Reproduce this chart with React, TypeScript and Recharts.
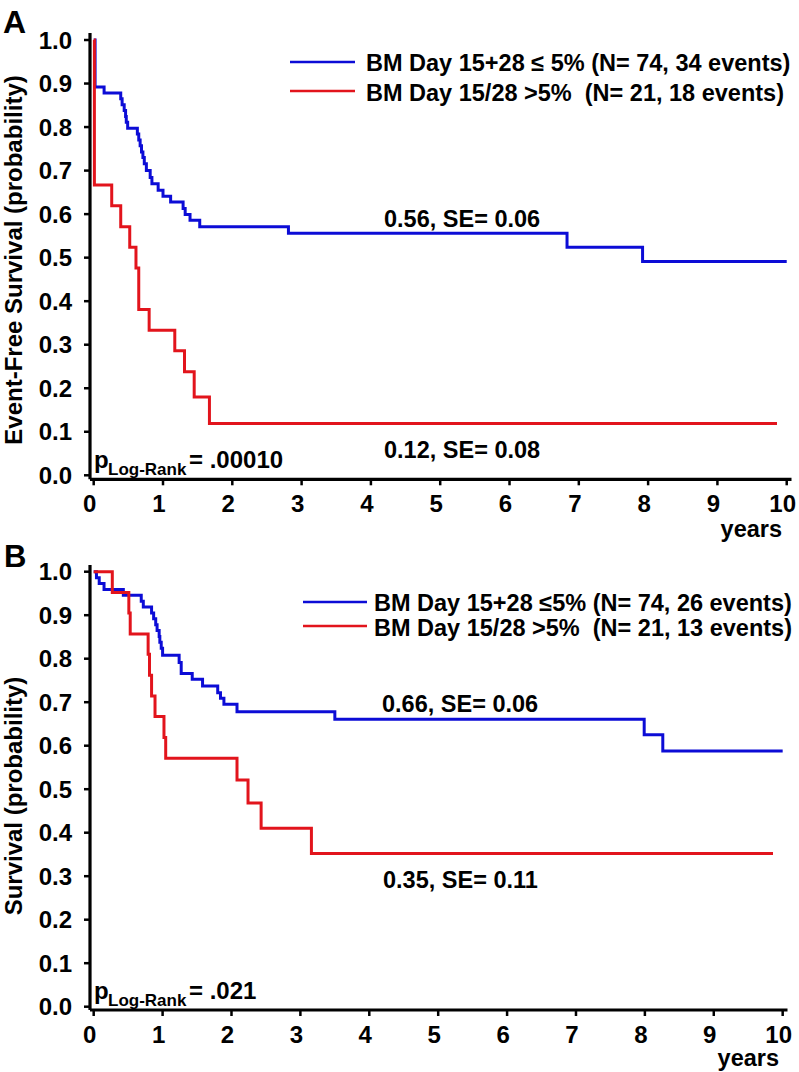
import React from "react";
import { LineChart, Line, XAxis, YAxis } from "recharts";

const FONT = '"Liberation Sans", Arial, Helvetica, sans-serif';
const BLUE = "#0c0cd6";
const RED = "#e2141c";

const yearTicks = [0, 1, 2, 3, 4, 5, 6, 7, 8, 9, 10];
const probTicks = [0, 0.1, 0.2, 0.3, 0.4, 0.5, 0.6, 0.7, 0.8, 0.9, 1.0];

// Panel A: event-free survival (time in years, probability after each step)
const efsLowT = [0, 0.02, 0.15, 0.39, 0.41, 0.44, 0.46, 0.47, 0.49, 0.63, 0.65, 0.67, 0.69, 0.71, 0.73, 0.76, 0.815, 0.84, 0.93, 1.0, 1.11, 1.29, 1.32, 1.39, 1.53, 2.81, 6.83, 7.92, 10.0];
const efsLowS = [1, 0.892, 0.878, 0.865, 0.851, 0.838, 0.824, 0.811, 0.797, 0.784, 0.77, 0.757, 0.743, 0.73, 0.716, 0.7, 0.684, 0.67, 0.655, 0.641, 0.628, 0.613, 0.599, 0.586, 0.571, 0.556, 0.524, 0.491, 0.491];
const efsHighT = [0, 0.01, 0.26, 0.39, 0.52, 0.61, 0.65, 0.8, 1.17, 1.31, 1.45, 1.67, 9.86];
const efsHighS = [1, 0.667, 0.619, 0.571, 0.524, 0.476, 0.381, 0.333, 0.286, 0.238, 0.18, 0.119, 0.119];

// Panel B: overall survival
const osLowT = [0, 0.04, 0.08, 0.15, 0.43, 0.69, 0.72, 0.84, 0.87, 0.9, 0.92, 0.95, 0.96, 0.98, 1.0, 1.24, 1.27, 1.43, 1.58, 1.8, 1.84, 1.89, 2.08, 3.5, 7.99, 8.26, 10.0];
const osLowS = [1, 0.986, 0.973, 0.959, 0.946, 0.932, 0.919, 0.905, 0.892, 0.878, 0.865, 0.851, 0.838, 0.824, 0.808, 0.791, 0.766, 0.753, 0.737, 0.722, 0.709, 0.695, 0.678, 0.661, 0.625, 0.588, 0.588];
const osHighT = [0, 0.27, 0.51, 0.53, 0.79, 0.81, 0.84, 0.89, 1.02, 1.045, 2.08, 2.24, 2.43, 3.16, 9.86];
const osHighS = [1, 0.952, 0.905, 0.857, 0.81, 0.762, 0.714, 0.667, 0.619, 0.571, 0.521, 0.468, 0.41, 0.352, 0.352];

const toPoints = (ts: number[], ss: number[]) => ts.map((t, i) => ({ t, s: ss[i] }));

const renderXTick = (props: any) => {
  const { x, y, payload } = props;
  return (
    <text x={x - 4} y={y} dy="0.71em" textAnchor="middle" fontSize={24} fontWeight={700} fill="#000" fontFamily={FONT}>
      {payload.value}
    </text>
  );
};

interface PanelProps {
  height: number;
  margin: { top: number; right: number; bottom: number; left: number };
  xDomain: [number, number];
  yDomain: [number, number];
  low: { t: number; s: number }[];
  high: { t: number; s: number }[];
}

const KMPanel = ({ height, margin, xDomain, yDomain, low, high }: PanelProps) => (
  <LineChart width={799} height={height} margin={margin}>
    <XAxis
      type="number"
      dataKey="t"
      domain={xDomain}
      ticks={yearTicks}
      allowDataOverflow
      height={40}
      tickSize={6}
      tickMargin={10}
      axisLine={{ stroke: "#000", strokeWidth: 3.2 }}
      tickLine={{ stroke: "#000", strokeWidth: 2.5 }}
      tick={renderXTick}
    />
    <YAxis
      type="number"
      domain={yDomain}
      ticks={probTicks}
      allowDataOverflow
      width={60}
      tickSize={6}
      tickMargin={12}
      tickFormatter={(v: number) => v.toFixed(1)}
      axisLine={{ stroke: "#000", strokeWidth: 3.2 }}
      tickLine={{ stroke: "#000", strokeWidth: 2.5 }}
      tick={{ fontSize: 24, fontWeight: 700, fill: "#000", fontFamily: FONT }}
    />
    <Line data={low} dataKey="s" type="stepAfter" stroke={BLUE} strokeWidth={3} dot={false} activeDot={false} isAnimationActive={false} />
    <Line data={high} dataKey="s" type="stepAfter" stroke={RED} strokeWidth={3} dot={false} activeDot={false} isAnimationActive={false} />
  </LineChart>
);

const txt = { fontFamily: FONT, fontWeight: 700, fill: "#000" } as const;

export default function App() {
  return (
    <div style={{ position: "absolute", left: 0, top: 0, width: 799, height: 1072, background: "#fff" }}>
      <div style={{ position: "absolute", left: 0, top: 0 }}>
        <KMPanel
          height={530}
          margin={{ top: 33, right: 7.5, bottom: 10.7, left: 30 }}
          xDomain={[-0.0534, 10.069]}
          yDomain={[-0.0092, 1.0161]}
          low={toPoints(efsLowT, efsLowS)}
          high={toPoints(efsHighT, efsHighS)}
        />
      </div>
      <div style={{ position: "absolute", left: 0, top: 530 }}>
        <KMPanel
          height={542}
          margin={{ top: 35, right: 11.5, bottom: 22, left: 30 }}
          xDomain={[-0.0537, 10.07]}
          yDomain={[-0.0076, 1.0154]}
          low={toPoints(osLowT, osLowS)}
          high={toPoints(osHighT, osHighS)}
        />
      </div>
      <svg width={799} height={1072} style={{ position: "absolute", left: 0, top: 0, pointerEvents: "none" }}>
        {/* panel A */}
        <text x={3} y={33} fontSize={32} {...txt}>A</text>
        <text transform="translate(21.5,260) rotate(-90)" textAnchor="middle" fontSize={24} {...txt}>
          Event-Free Survival (probability)
        </text>
        <line x1={290} y1={62} x2={355} y2={62} stroke={BLUE} strokeWidth={2.5} />
        <line x1={290} y1={91} x2={355} y2={91} stroke={RED} strokeWidth={2.5} />
        <text x={366} y={70.5} fontSize={23.5} {...txt}>BM Day 15+28 ≤ 5% (N= 74, 34 events)</text>
        <text x={366} y={100.5} fontSize={23.5} {...txt} style={{ whiteSpace: "pre" }}>BM Day 15/28 &gt;5%  (N= 21, 18 events)</text>
        <text x={384} y={226.5} fontSize={23.5} {...txt}>0.56, SE= 0.06</text>
        <text x={384} y={458} fontSize={23.5} {...txt}>0.12, SE= 0.08</text>
        <text x={94} y={468} fontSize={24} {...txt}>p</text>
        <text x={108} y={475} fontSize={17} {...txt}>Log-Rank</text>
        <text x={189} y={468} fontSize={24} {...txt}>= .00010</text>
        <text x={782} y={537} textAnchor="end" fontSize={23.5} {...txt}>years</text>

        {/* panel B */}
        <text x={4} y={567} fontSize={31} {...txt}>B</text>
        <text transform="translate(21.5,796) rotate(-90)" textAnchor="middle" fontSize={24} {...txt}>
          Survival (probability)
        </text>
        <line x1={303} y1={602} x2={367} y2={602} stroke={BLUE} strokeWidth={2.5} />
        <line x1={303} y1={626} x2={367} y2={626} stroke={RED} strokeWidth={2.5} />
        <text x={374} y={610.5} fontSize={23.5} {...txt}>BM Day 15+28 ≤5% (N= 74, 26 events)</text>
        <text x={374} y={635.5} fontSize={23.5} {...txt} style={{ whiteSpace: "pre" }}>BM Day 15/28 &gt;5%  (N= 21, 13 events)</text>
        <text x={382} y={711.5} fontSize={23.5} {...txt}>0.66, SE= 0.06</text>
        <text x={383} y={888} fontSize={23.5} {...txt}>0.35, SE= 0.11</text>
        <text x={94} y={999} fontSize={24} {...txt}>p</text>
        <text x={108} y={1006} fontSize={17} {...txt}>Log-Rank</text>
        <text x={189} y={999} fontSize={24} {...txt}>= .021</text>
        <text x={779} y={1066} textAnchor="end" fontSize={23.5} {...txt}>years</text>
      </svg>
    </div>
  );
}
